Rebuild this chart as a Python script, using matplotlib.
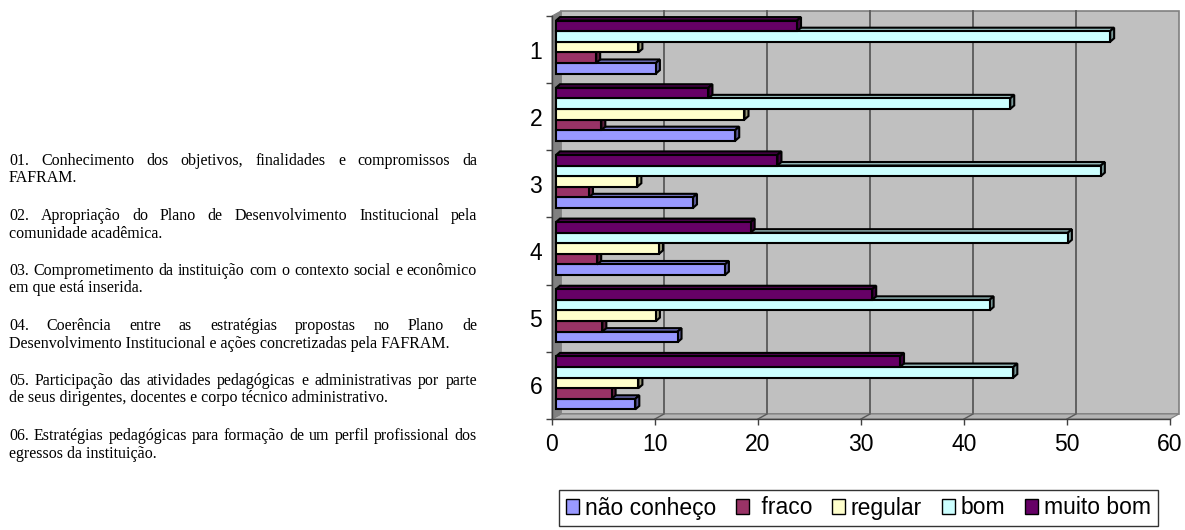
import matplotlib
matplotlib.use("Agg")
import matplotlib.pyplot as plt
from matplotlib.patches import Rectangle, Polygon, Patch
from matplotlib.colors import to_rgb

### Chart data
categories = ["1", "2", "3", "4", "5", "6"]
series_names = ["não conheço", " fraco", "regular", "bom", "muito bom"]
nao_conheco = [9.7, 17.4, 13.3, 16.4, 11.8, 7.7]
fraco = [3.9, 4.4, 3.2, 4.0, 4.5, 5.4]
regular = [8.0, 18.3, 7.9, 10.0, 9.7, 8.0]
bom = [53.8, 44.1, 52.9, 49.7, 42.1, 44.4]
muito_bom = [23.4, 14.8, 21.5, 18.9, 30.7, 33.4]
x_ticks = [0, 10, 20, 30, 40, 50, 60]

# Text block on the left (line breaks as in the original document)
notes = [
    ("01. Conhecimento dos objetivos, finalidades e compromissos da", "FAFRAM."),
    ("02. Apropriação do Plano de Desenvolvimento Institucional pela", "comunidade acadêmica."),
    ("03. Comprometimento da instituição com o contexto social e econômico", "em que está inserida."),
    ("04. Coerência entre as estratégias propostas no Plano de",
     "Desenvolvimento Institucional e ações concretizadas pela FAFRAM."),
    ("05. Participação das atividades pedagógicas e administrativas por parte",
     "de seus dirigentes, docentes e corpo técnico administrativo."),
    ("06. Estratégias pedagógicas para formação de um perfil profissional dos",
     "egressos da instituição."),
]

all_series = [nao_conheco, fraco, regular, bom, muito_bom]
colors = ["#9999FF", "#993366", "#FFFFCC", "#CCFFFF", "#660066"]

W, H = 1185, 530
fig = plt.figure(figsize=(W / 100, H / 100), dpi=100)

# front frame of the 3D plot, in pixels
ax_left, ax_right, ax_top, ax_bottom = 552, 1170, 16, 419
ax = fig.add_axes([ax_left / W, 1 - ax_bottom / H,
                   (ax_right - ax_left) / W, (ax_bottom - ax_top) / H])
ax.set_xlim(0, 60)
ax.set_ylim(len(categories), 0)
ax.patch.set_visible(False)

# pixel -> data unit conversions
px_x = 60 / (ax_right - ax_left)
px_y = len(categories) / (ax_bottom - ax_top)

# back wall / side wall / floor
wx, wy = 9 * px_x, 5 * px_y
n = len(categories)
ax.add_patch(Rectangle((wx, -wy), 60, n, facecolor="#C0C0C0", edgecolor="#808080",
                       lw=1.2, zorder=0, clip_on=False))
ax.add_patch(Polygon([(0, 0), (0, n), (wx, n - wy), (wx, -wy)], closed=True,
                     facecolor="#808080", edgecolor="#808080", lw=0.8, zorder=0.6, clip_on=False))
ax.add_patch(Polygon([(0, n), (60, n), (60 + wx, n - wy), (wx, n - wy)], closed=True,
                     facecolor="#B4B4B4", edgecolor="#808080", lw=0.8, zorder=0.5, clip_on=False))
for xv in x_ticks[1:-1]:
    ax.plot([xv + wx, xv + wx], [n - wy, -wy], color="#5a5a5a", lw=1.3, zorder=0.4, clip_on=False)
    ax.plot([xv, xv + wx], [n, n - wy], color="#5a5a5a", lw=1.0, zorder=0.55, clip_on=False)


def shade(c, f=0.7):
    r, g, b = to_rgb(c)
    return (r * f, g * f, b * f)


# bars with a small 3D depth
bh = 10.6 * px_y
x0 = 4 * px_x
dx, dy = 4 * px_x, 3.5 * px_y
lw = 1.5
for i in range(n):
    gc = i + 0.5 - 2.5 * px_y
    for k, (vals, col) in enumerate(zip(all_series, colors)):
        v = vals[i]
        yc = gc + (2 - k) * bh
        yt, yb = yc - bh / 2, yc + bh / 2
        z = 2 + i * 0.1 + k * 0.01
        ax.add_patch(Polygon([(x0, yt), (x0 + v, yt), (x0 + v + dx, yt - dy), (x0 + dx, yt - dy)],
                             closed=True, facecolor=shade(col, 0.75), edgecolor="black",
                             lw=lw, zorder=z, joinstyle="miter"))
        ax.add_patch(Polygon([(x0 + v, yt), (x0 + v + dx, yt - dy), (x0 + v + dx, yb - dy), (x0 + v, yb)],
                             closed=True, facecolor=shade(col, 0.6), edgecolor="black",
                             lw=lw, zorder=z, joinstyle="miter"))
        ax.add_patch(Rectangle((x0, yt), v, bh, facecolor=col, edgecolor="black",
                               lw=lw, zorder=z + 0.001, joinstyle="miter"))

# axes styling
for s in ["top", "right"]:
    ax.spines[s].set_visible(False)
for s in ["left", "bottom"]:
    ax.spines[s].set_color("#404040")
    ax.spines[s].set_linewidth(1.0)
    ax.spines[s].set_zorder(5)

label_size = 16.5
ax.set_xticks(x_ticks)
ax.set_xticklabels([str(t) for t in x_ticks])
ax.tick_params(axis="x", direction="out", length=4, width=1, color="#404040", pad=6,
               labelsize=label_size)
ax.set_yticks([i + 0.5 for i in range(n)])
ax.set_yticklabels(categories)
ax.set_yticks(range(n + 1), minor=True)
ax.tick_params(axis="y", which="major", length=0, pad=7, labelsize=label_size)
ax.tick_params(axis="y", which="minor", direction="out", length=4, width=1, color="#404040")
for lab in ax.get_xticklabels() + ax.get_yticklabels():
    lab.set_fontfamily("Liberation Sans")

# legend
handles = [Patch(facecolor=c, edgecolor="black", lw=1) for c in colors]
leg = fig.legend(handles, series_names, loc="center", ncol=5,
                 bbox_to_anchor=((545 + 1172) / 2 / W, 1 - 508 / H),
                 prop={"family": "Liberation Sans", "size": label_size},
                 handlelength=0.58, handleheight=0.58, handletextpad=0.25,
                 columnspacing=0.85, borderpad=0.3, borderaxespad=0.0,
                 frameon=True, fancybox=False)
leg.get_frame().set_edgecolor("black")
leg.get_frame().set_linewidth(1.0)

# justified note text on the left
renderer = fig.canvas.get_renderer()
note_font = {"family": "Liberation Serif", "size": 11.5}
tx0, tx1 = 9, 477


def text_width(s):
    t = fig.text(0, 0, s, **note_font)
    w = t.get_window_extent(renderer).width
    t.remove()
    return w


def put_line(s, y, justify):
    if not justify:
        fig.text(tx0 / W, 1 - y / H, s, va="baseline", ha="left", **note_font)
        return
    words = s.split(" ")
    widths = [text_width(w) for w in words]
    gap = (tx1 - tx0 - sum(widths)) / (len(words) - 1)
    x = tx0
    for w, wd in zip(words, widths):
        fig.text(x / W, 1 - y / H, w, va="baseline", ha="left", **note_font)
        x += wd + gap


for j, (first, second) in enumerate(notes):
    base = 165 + 55 * j
    put_line(first, base, True)
    put_line(second, base + 17.5, False)

fig.savefig("out.png", dpi=100)
